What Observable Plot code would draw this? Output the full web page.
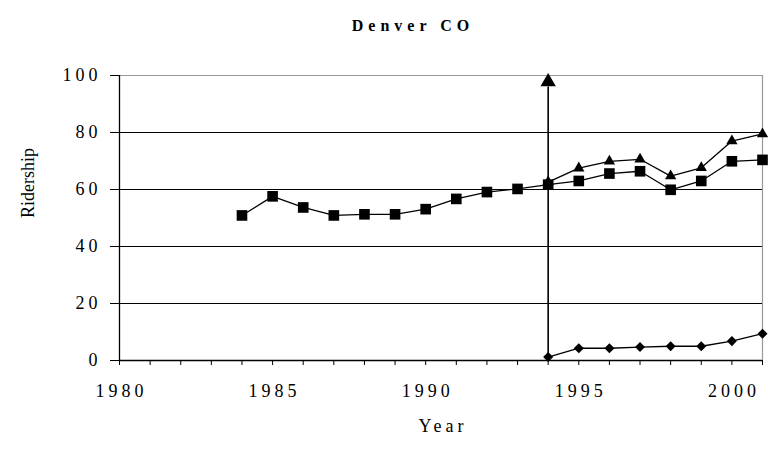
<!DOCTYPE html>
<html>
<head>
<meta charset="utf-8">
<script src="https://cdn.jsdelivr.net/npm/d3@7"></script>
<script src="https://cdn.jsdelivr.net/npm/@observablehq/plot@0.6"></script>
<style>
  body { margin: 0; background: #fff; }
  #chart svg { display: block; }
</style>
</head>
<body>
<div id="chart"></div>
<script>
const titleText = "Denver CO";
const xLabel = "Year";
const yLabel = "Ridership";

const yearsAll = [1984, 1985, 1986, 1987, 1988, 1989, 1990, 1991, 1992, 1993, 1994, 1995, 1996, 1997, 1998, 1999, 2000, 2001];
const squareValues = [50.9, 57.6, 53.7, 50.9, 51.3, 51.3, 53.1, 56.7, 59.1, 60.2, 61.7, 63.0, 65.6, 66.4, 59.9, 63.0, 69.9, 70.4];

const yearsNew = [1994, 1995, 1996, 1997, 1998, 1999, 2000, 2001];
const triangleValues = [62.6, 67.5, 69.9, 70.6, 64.7, 67.6, 77.0, 79.5];
const diamondValues = [1.2, 4.3, 4.3, 4.7, 5.0, 5.0, 6.8, 9.4];

const xDomain = [1980, 2001];
const xTickLabels = [1980, 1985, 1990, 1995, 2000];
const xMinorTicks = [1980, 1981, 1982, 1983, 1984, 1985, 1986, 1987, 1988, 1989, 1990, 1991, 1992, 1993, 1994, 1995, 1996, 1997, 1998, 1999, 2000, 2001];
const yTicks = [0, 20, 40, 60, 80, 100];
const yGrid = [20, 40, 60, 80];
const markerYear = [1994];
const arrowTop = [97.8];

const squares = yearsAll.map((year, i) => ({year, value: squareValues[i]}));
const triangles = yearsNew.map((year, i) => ({year, value: triangleValues[i]}));
const diamonds = yearsNew.map((year, i) => ({year, value: diamondValues[i]}));
const arrowHead = markerYear.map((year, i) => ({year, value: arrowTop[i]}));

const serif = "'Liberation Serif', 'Times New Roman', serif";

const chart = Plot.plot({
  width: 771,
  height: 458,
  marginLeft: 119,
  marginRight: 9,
  marginTop: 75,
  marginBottom: 98,
  style: {fontFamily: serif, fontSize: "18px", background: "#fff", color: "#000"},
  x: {domain: xDomain},
  y: {domain: [0, 100]},
  marks: [
    Plot.ruleY(yGrid, {stroke: "#000", strokeWidth: 1}),
    Plot.ruleY([100], {x1: xDomain[0], x2: xDomain[1], stroke: "#999", strokeWidth: 1.2}),
    Plot.ruleX([xDomain[1]], {y1: 0, y2: 100, stroke: "#999", strokeWidth: 1.2}),
    Plot.ruleX([xDomain[0]], {y1: 0, y2: 100, stroke: "#000", strokeWidth: 1.3}),
    Plot.ruleY([0], {x1: xDomain[0], x2: xDomain[1], stroke: "#000", strokeWidth: 1.3}),
    Plot.axisY(yTicks, {tickSize: 9, tickPadding: 10, fontSize: 18, stroke: "#000", tickFormat: d => String(d), label: null}),
    Plot.axisX(xMinorTicks, {tickSize: 5, tickFormat: () => "", stroke: "#000", label: null}),
    Plot.axisX(xTickLabels, {tickSize: 0, tickPadding: 24, fontSize: 18, tickFormat: d => String(d), label: null}),
    Plot.ruleX(markerYear, {y1: 0, y2: 96, stroke: "#000", strokeWidth: 1.6}),
    Plot.dot(arrowHead, {x: "year", y: "value", symbol: "triangle", r: 5.7, fill: "#000", stroke: "none"}),
    Plot.line(squares, {x: "year", y: "value", stroke: "#000", strokeWidth: 1.3}),
    Plot.line(triangles, {x: "year", y: "value", stroke: "#000", strokeWidth: 1.3}),
    Plot.line(diamonds, {x: "year", y: "value", stroke: "#000", strokeWidth: 1.3}),
    Plot.dot(triangles, {x: "year", y: "value", symbol: "triangle", r: 4.2, fill: "#000", stroke: "none"}),
    Plot.dot(squares, {x: "year", y: "value", symbol: "square", r: 6, fill: "#000", stroke: "none"}),
    Plot.dot(diamonds, {x: "year", y: "value", symbol: "square", r: 4, rotate: 45, fill: "#000", stroke: "none"}),
    Plot.text([titleText], {frameAnchor: "top", lineAnchor: "middle", dy: -50, dx: -30, fontWeight: "bold", fontSize: 16}),
    Plot.text([xLabel], {frameAnchor: "bottom", lineAnchor: "middle", dy: 66, fontSize: 18}),
    Plot.text([yLabel], {frameAnchor: "left", lineAnchor: "middle", dx: -91, rotate: -90, fontSize: 18})
  ]
});

const svg = d3.select(chart);
const xLabelStrings = xTickLabels.map(String);
const yLabelStrings = yTicks.map(String);
svg.selectAll("text").each(function () {
  const t = this.textContent;
  const el = d3.select(this);
  if (t === titleText) el.attr("letter-spacing", "5px").attr("dx", 2);
  else if (t === xLabel) el.attr("letter-spacing", "4px").attr("dx", 2);
  else if (xLabelStrings.includes(t)) el.attr("letter-spacing", "4px").attr("dx", 2);
  else if (yLabelStrings.includes(t)) el.attr("letter-spacing", "4px").attr("dx", 1);
});

document.getElementById("chart").appendChild(chart);
</script>
</body>
</html>
